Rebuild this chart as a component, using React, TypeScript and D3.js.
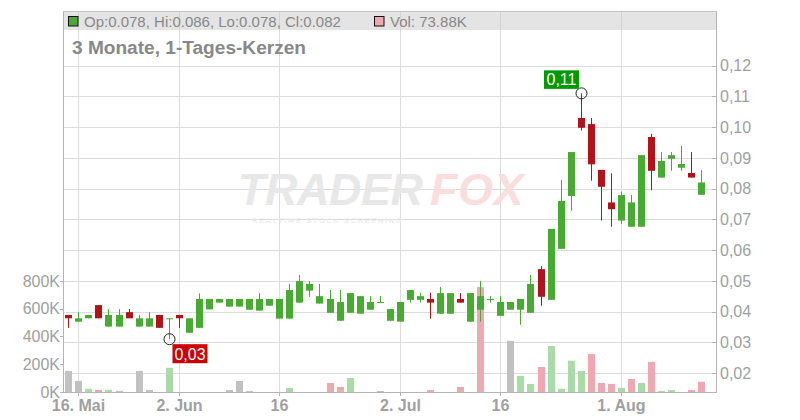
import React from "react";
import * as d3 from "d3";

const dates = [
  "2025-05-15","2025-05-16","2025-05-19","2025-05-20","2025-05-21","2025-05-22","2025-05-23","2025-05-26","2025-05-27","2025-05-28",
  "2025-05-30","2025-06-02","2025-06-03","2025-06-04","2025-06-05","2025-06-06","2025-06-09","2025-06-10","2025-06-11","2025-06-12",
  "2025-06-13","2025-06-16","2025-06-17","2025-06-18","2025-06-19","2025-06-20","2025-06-23","2025-06-24","2025-06-25","2025-06-26",
  "2025-06-27","2025-06-30","2025-07-01","2025-07-02","2025-07-03","2025-07-04","2025-07-07","2025-07-08","2025-07-09","2025-07-10",
  "2025-07-11","2025-07-14","2025-07-15","2025-07-16","2025-07-17","2025-07-18","2025-07-21","2025-07-22","2025-07-23","2025-07-24",
  "2025-07-25","2025-07-28","2025-07-29","2025-07-30","2025-07-31","2025-08-01","2025-08-04","2025-08-05","2025-08-06","2025-08-07",
  "2025-08-08","2025-08-11","2025-08-12","2025-08-13",
];

const opens = [
  0.0389,0.0367,0.0378,0.0421,0.0351,0.0351,0.0398,0.0351,0.0351,0.0389,
  0.0377,0.0389,0.0331,0.0347,0.0407,0.0429,0.0416,0.0416,0.0406,0.0403,
  0.0419,0.0377,0.0377,0.0429,0.0468,0.0426,0.0396,0.0370,0.0396,0.0393,
  0.0406,0.0430,0.0370,0.0367,0.0438,0.0438,0.0441,0.0393,0.0393,0.0441,
  0.0367,0.0406,0.0440,0.0386,0.0406,0.0406,0.0396,0.0538,0.0438,0.0604,
  0.0776,0.1030,0.1010,0.0861,0.0755,0.0696,0.0676,0.0676,0.0968,0.0836,
  0.0897,0.0868,0.0851,0.078,
];
const highs = [
  0.0389,0.0398,0.0389,0.0421,0.0408,0.0408,0.0408,0.0389,0.0398,0.0389,
  0.0378,0.0389,0.0378,0.0459,0.0441,0.0441,0.0441,0.0441,0.0441,0.0460,
  0.0441,0.0441,0.0490,0.0519,0.0499,0.0490,0.0470,0.0470,0.0460,0.0450,
  0.0450,0.0450,0.0408,0.0431,0.0470,0.0461,0.0461,0.0480,0.0460,0.0460,
  0.0460,0.0499,0.0450,0.0450,0.0431,0.0441,0.0519,0.0548,0.0669,0.0828,
  0.0919,0.1110,0.1030,0.0861,0.0850,0.0790,0.0779,0.0909,0.0978,0.0919,
  0.0919,0.0939,0.0919,0.086,
];
const lows = [
  0.0347,0.0367,0.0378,0.0378,0.0351,0.0351,0.0378,0.0351,0.0351,0.0347,
  0.0310,0.0347,0.0331,0.0347,0.0407,0.0429,0.0416,0.0416,0.0406,0.0403,
  0.0419,0.0377,0.0377,0.0429,0.0448,0.0426,0.0396,0.0370,0.0396,0.0393,
  0.0406,0.0430,0.0370,0.0367,0.0429,0.0429,0.0377,0.0393,0.0393,0.0429,
  0.0367,0.0367,0.0429,0.0386,0.0406,0.0357,0.0396,0.0419,0.0438,0.0604,
  0.0728,0.0989,0.0826,0.0696,0.0676,0.0685,0.0676,0.0676,0.0795,0.0836,
  0.0858,0.0858,0.0836,0.078,
];
const closes = [
  0.0378,0.0378,0.0389,0.0378,0.0389,0.0389,0.0378,0.0378,0.0378,0.0347,
  0.0378,0.0378,0.0378,0.0441,0.0441,0.0441,0.0441,0.0441,0.0441,0.0441,
  0.0441,0.0441,0.0470,0.0499,0.0490,0.0450,0.0441,0.0431,0.0460,0.0450,
  0.0431,0.0431,0.0408,0.0431,0.0470,0.0450,0.0429,0.0460,0.0460,0.0429,
  0.0460,0.0450,0.0441,0.0431,0.0431,0.0441,0.0490,0.0448,0.0669,0.0760,
  0.0919,0.0998,0.0879,0.0806,0.0733,0.0779,0.0755,0.0909,0.0858,0.0890,
  0.0909,0.0880,0.0836,0.082,
];
// volume in thousands
const volumes = [
  152,80,23,15,16,8,0,152,15,0,
  174,0,0,0,0,0,14,79,7,0,
  0,0,29,0,0,0,65,36,101,0,
  0,7,0,0,0,0,14,0,0,36,
  0,755,0,0,368,116,58,180,331,23,
  225,151,273,65,58,29,94,65,216,7,
  14,0,14,73.88,
];
// volume colour: u = close up vs previous close, d = down, n = unchanged
const volDir = [
  "n","n","u","d","u","n","n","n","n","n",
  "u","n","n","n","n","n","n","n","n","n",
  "n","n","u","n","n","n","d","d","u","n",
  "n","n","n","n","n","n","d","n","n","d",
  "n","d","n","n","n","u","u","d","u","u",
  "u","u","d","d","d","u","d","u","d","u",
  "u","n","d","d",
];

const tickDates = ["2025-05-16","2025-06-02","2025-06-16","2025-07-02","2025-07-16","2025-08-01"];
const tickLabels = ["16. Mai","2. Jun","16","2. Jul","16","1. Aug"];
const priceTicks = [0.02,0.03,0.04,0.05,0.06,0.07,0.08,0.09,0.1,0.11,0.12];
const volTicks = [0,200000,400000,600000,800000];

const FONT = "'Liberation Sans', Arial, Helvetica, sans-serif";
const GREEN = "#48aa32";
const RED = "#b11418";
const VOLC: Record<string,string> = { u: "#a9dba6", d: "#eea8b0", n: "#c1c1c1" };

export default function App() {
  const left = 63, right = 716, top = 11.5, bottom = 392;
  const x = d3.scalePoint<string>().domain(dates).range([68.3, 701.3]);
  const y = d3.scaleLinear().domain([0.02, 0.12]).range([373, 65.7]);
  const yv = d3.scaleLinear().domain([0, 800000]).range([bottom, 280.8]);
  const fmtP = (v: number) => d3.format(".2f")(v).replace(".", ",");
  const fmtV = (v: number) => `${v / 1000}K`;
  const cxOf = (d: string) => Math.round(x(d) as number);

  const minIdx = d3.minIndex(lows);
  const maxIdx = d3.maxIndex(highs);
  const minX = cxOf(dates[minIdx]) + 0.5, minY = y(lows[minIdx]);
  const maxX = cxOf(dates[maxIdx]) + 0.5, maxY = y(highs[maxIdx]);
  const last = dates.length - 1;

  return (
    <svg width={800} height={420} style={{ position: "absolute", left: 0, top: 0, display: "block", background: "#fff" }} fontFamily={FONT}>
      {/* horizontal grid */}
      {priceTicks.map((t) => (
        <line key={"g" + t} x1={left} x2={right - 4} y1={Math.round(y(t)) + 0.5} y2={Math.round(y(t)) + 0.5} stroke="#dcdcdc" />
      ))}
      {/* vertical grid */}
      {tickDates.map((d) => (
        <line key={"v" + d} x1={cxOf(d) + 0.5} x2={cxOf(d) + 0.5} y1={top} y2={bottom} stroke="#dcdcdc" />
      ))}

      {/* watermark */}
      <g opacity={0.9}>
        <text x={238} y={205} fontSize={45} fontWeight={900} fontStyle="italic" fill="#e6e6e6" letterSpacing={-0.5}>TRADER</text>
        <text x={430} y={205} fontSize={45} fontWeight={900} fontStyle="italic" fill="#fadada" letterSpacing={0.5}>FOX</text>
        <text x={252} y={223} fontSize={7.5} fontWeight={700} fill="#ececec" letterSpacing={1.6}>REALTIME STOCK SCREENING</text>
      </g>

      {/* volume bars */}
      {dates.map((d, i) =>
        volumes[i] > 0 ? (
          <rect key={"vb" + d} x={cxOf(d) - 3} width={7} y={yv(volumes[i] * 1000)} height={bottom - yv(volumes[i] * 1000)} fill={VOLC[volDir[i]]} />
        ) : null
      )}

      {/* candles */}
      {dates.map((d, i) => {
        const cx = cxOf(d);
        const up = closes[i] >= opens[i];
        const col = up ? GREEN : RED;
        const yTop = y(Math.max(opens[i], closes[i]));
        const yBot = y(Math.min(opens[i], closes[i]));
        const h = Math.max(1, yBot - yTop);
        return (
          <g key={"c" + d}>
            <line x1={cx + 0.5} x2={cx + 0.5} y1={y(highs[i])} y2={y(lows[i])} stroke={col} strokeWidth={1} />
            <rect x={cx - 3} width={7} y={yTop} height={h} fill={col} />
          </g>
        );
      })}

      {/* min/max markers */}
      <circle cx={minX} cy={minY} r={5.5} fill="none" stroke="#222" strokeWidth={1} />
      <rect x={minX + 3} y={minY + 5} width={35} height={19} fill="#cc0000" />
      <text x={minX + 20.5} y={minY + 20.5} fontSize={16} fill="#fff" textAnchor="middle">{fmtP(lows[minIdx])}</text>
      <circle cx={maxX} cy={maxY} r={5.5} fill="none" stroke="#222" strokeWidth={1} />
      <rect x={maxX - 37.5} y={maxY - 23} width={35} height={18.5} fill="#009900" />
      <text x={maxX - 20} y={maxY - 8} fontSize={16} fill="#fff" textAnchor="middle">{fmtP(highs[maxIdx])}</text>

      {/* header band */}
      <rect x={left + 0.5} y={top} width={right - left} height={18.5} fill="#e4e4e4" />
      {tickDates.map((d) => (
        <line key={"hv" + d} x1={cxOf(d) + 0.5} x2={cxOf(d) + 0.5} y1={top} y2={top + 18.5} stroke="#d2d2d2" />
      ))}
      <rect x={68.5} y={16.5} width={9.5} height={9.5} fill={GREEN} stroke="#111" strokeWidth={1} />
      <text x={84} y={26.5} fontSize={15} fill="#888">
        {`Op:${opens[last].toFixed(3)}, Hi:${highs[last].toFixed(3)}, Lo:${lows[last].toFixed(3)}, Cl:${closes[last].toFixed(3)}`}
      </text>
      <rect x={374.5} y={16.5} width={9.5} height={9.5} fill={VOLC[volDir[last]]} stroke="#111" strokeWidth={1} />
      <text x={390} y={26.5} fontSize={15} fill="#888">{`Vol: ${volumes[last].toFixed(2)}K`}</text>

      {/* title */}
      <text x={72} y={54} fontSize={18} fontWeight={700} fill="#888" textLength={234} lengthAdjust="spacingAndGlyphs">3 Monate, 1-Tages-Kerzen</text>

      {/* frame */}
      <line x1={left + 0.5} x2={left + 0.5} y1={top} y2={bottom} stroke="#b4b4b4" />
      <line x1={left} x2={right + 1} y1={top} y2={top} stroke="#c4c4c4" />
      <line x1={right + 0.5} x2={right + 0.5} y1={top} y2={bottom + 0.5} stroke="#b4b4b4" />
      <line x1={left} x2={right + 1} y1={bottom + 0.5} y2={bottom + 0.5} stroke="#b4b4b4" />

      {/* price axis */}
      {priceTicks.map((t) => (
        <g key={"pt" + t}>
          <line x1={right - 4} x2={right} y1={Math.round(y(t)) + 0.5} y2={Math.round(y(t)) + 0.5} stroke="#b4b4b4" />
          <text x={720} y={y(t)} dy="0.36em" fontSize={16} fill="#a0a0a0">{fmtP(t)}</text>
        </g>
      ))}

      {/* volume axis */}
      {volTicks.map((t) => (
        <g key={"vt" + t}>
          <line x1={left - 3} x2={left} y1={Math.round(yv(t)) + 0.5} y2={Math.round(yv(t)) + 0.5} stroke="#b4b4b4" />
          <text x={60} y={yv(t)} dy="0.36em" fontSize={16} fill="#a0a0a0" textAnchor="end">{fmtV(t)}</text>
        </g>
      ))}

      {/* date axis */}
      {tickDates.map((d, i) => (
        <g key={"xt" + d}>
          <line x1={cxOf(d) + 0.5} x2={cxOf(d) + 0.5} y1={bottom} y2={bottom + 4} stroke="#b4b4b4" />
          <text x={cxOf(d) + 0.5} y={411} fontSize={16} fontWeight={700} fill="#a0a0a0" textAnchor="middle">{tickLabels[i]}</text>
        </g>
      ))}
    </svg>
  );
}
